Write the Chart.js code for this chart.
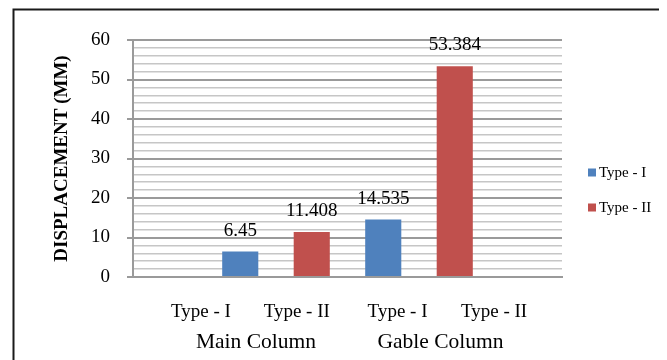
<!DOCTYPE html>
<html>
<head>
<meta charset="utf-8">
<script src="https://cdn.jsdelivr.net/npm/chart.js@4.4.0/dist/chart.umd.min.js"></script>
<style>
  html, body { margin: 0; padding: 0; background: #ffffff; }
  #wrap { width: 667px; height: 360px; position: relative; }
</style>
</head>
<body>
<div id="wrap"><canvas id="chart" width="667" height="360"></canvas></div>
<script>
// Column groups and member types shown under the axis
const groupLabels = ['Main Column', 'Gable Column'];
const typeLabels = ['Type - I', 'Type - II', 'Type - I', 'Type - II'];

// Bar slots along the category axis (one empty slot at each end)
const slots = ['', 'Main Column / Type - I', 'Main Column / Type - II',
               'Gable Column / Type - I', 'Gable Column / Type - II', ''];

// Series
const seriesNames = ['Type - I', 'Type - II'];
const typeIValues = [null, 6.45, null, 14.535, null, null];
const typeIIValues = [null, null, 11.408, null, 53.384, null];

// Value axis
const yMin = 0;
const yMax = 60;
const yMinorStep = 2;
const yMajorStep = 10;
const yTitle = 'DISPLACEMENT (MM)';

const SERIF = "'Liberation Serif', 'Times New Roman', serif";
const MAJOR_GRID = '#9a9a9a';
const MINOR_GRID = '#c6c6c6';

// Where the type / group captions sit along the slot index range
const typeLabelAt = [0.45, 1.79, 3.2, 4.55];
const groupLabelAt = [1.22, 3.8];

const frame = {
  id: 'frame',
  beforeDraw(chart) {
    const ctx = chart.ctx;
    ctx.save();
    ctx.fillStyle = '#ffffff';
    ctx.fillRect(0, 0, chart.width, chart.height);
    ctx.strokeStyle = '#1a1a1a';
    ctx.lineWidth = 2;
    ctx.beginPath();
    ctx.moveTo(13.5, chart.height);
    ctx.lineTo(13.5, 9.5);
    ctx.lineTo(659, 9.5);
    ctx.stroke();
    ctx.restore();
  }
};

const valueLabels = {
  id: 'valueLabels',
  afterDatasetsDraw(chart) {
    const ctx = chart.ctx;
    ctx.save();
    ctx.font = '19px ' + SERIF;
    ctx.fillStyle = '#000000';
    ctx.textAlign = 'center';
    ctx.textBaseline = 'alphabetic';
    chart.data.datasets.forEach((ds, di) => {
      const meta = chart.getDatasetMeta(di);
      meta.data.forEach((bar, i) => {
        const v = ds.data[i];
        if (v === null || v === undefined) return;
        ctx.fillText(String(v), bar.x, bar.y - 16);
      });
    });
    ctx.restore();
  }
};

const sideLegend = {
  id: 'sideLegend',
  afterDraw(chart, args, opts) {
    const ctx = chart.ctx;
    ctx.save();
    ctx.font = '15px ' + SERIF;
    ctx.textAlign = 'left';
    ctx.textBaseline = 'middle';
    chart.data.datasets.forEach((ds, i) => {
      const cy = opts.top + i * opts.step;
      ctx.fillStyle = ds.backgroundColor;
      ctx.fillRect(opts.left, cy - opts.box / 2, opts.box, opts.box);
      ctx.fillStyle = '#000000';
      ctx.fillText(ds.label, opts.left + opts.box + 3, cy + 1);
    });
    ctx.restore();
  }
};

const labelAxis = (positions, texts, weight, height, pad, size) => ({
  type: 'linear',
  position: 'bottom',
  weight: weight,
  offset: false,
  min: -0.5,
  max: slots.length - 0.5,
  grid: { display: false, drawTicks: false, offset: false },
  border: { display: false },
  afterBuildTicks: (scale) => { scale.ticks = positions.map(v => ({ value: v })); },
  afterFit: (scale) => { scale.height = height; },
  ticks: {
    autoSkip: false,
    maxRotation: 0,
    minRotation: 0,
    padding: pad,
    color: '#000000',
    font: { family: SERIF, size: size },
    callback: (value, index) => texts[index]
  }
});

new Chart(document.getElementById('chart'), {
  type: 'bar',
  data: {
    labels: slots,
    datasets: [
      { label: seriesNames[0], data: typeIValues, backgroundColor: '#4F81BD' },
      { label: seriesNames[1], data: typeIIValues, backgroundColor: '#C0504D' }
    ]
  },
  options: {
    responsive: false,
    animation: false,
    devicePixelRatio: 1,
    layout: { padding: { left: 13, top: 40, right: 105, bottom: 0 } },
    datasets: { bar: { grouped: false, categoryPercentage: 1, barPercentage: 0.505 } },
    plugins: {
      legend: { display: false },
      tooltip: { enabled: false },
      sideLegend: { left: 588, top: 172.5, step: 35, box: 8 }
    },
    scales: {
      x: {
        type: 'category',
        weight: 0,
        offset: true,
        grid: { display: false, drawTicks: false },
        ticks: { display: false },
        border: { display: true, color: MAJOR_GRID, width: 2 },
        afterFit: (scale) => { scale.height = 0; }
      },
      x2: labelAxis(typeLabelAt, typeLabels, 1, 48, 24, 19),
      x3: labelAxis(groupLabelAt, groupLabels, 2, 35, 4, 21.5),
      y: {
        type: 'linear',
        min: yMin,
        max: yMax,
        afterFit: (scale) => { scale.width = 120; },
        ticks: {
          stepSize: yMinorStep,
          autoSkip: false,
          padding: 17,
          color: '#000000',
          font: { family: SERIF, size: 19 },
          callback: (value) => (value % yMajorStep === 0 ? value : '')
        },
        grid: {
          drawTicks: true,
          tickLength: 6,
          color: (c) => (c.tick && c.tick.value % yMajorStep === 0 ? MAJOR_GRID : MINOR_GRID),
          lineWidth: (c) => (c.tick && c.tick.value % yMajorStep === 0 ? 2 : 1.5),
          tickColor: (c) => (c.tick && c.tick.value % yMajorStep === 0 ? MAJOR_GRID : 'rgba(0,0,0,0)'),
          tickWidth: 2
        },
        border: { display: true, color: MAJOR_GRID, width: 2 },
        title: {
          display: true,
          text: yTitle,
          color: '#000000',
          font: { family: SERIF, size: 19, weight: 'bold' },
          padding: { top: 38, bottom: 0 }
        }
      }
    }
  },
  plugins: [frame, valueLabels, sideLegend]
});
</script>
</body>
</html>
